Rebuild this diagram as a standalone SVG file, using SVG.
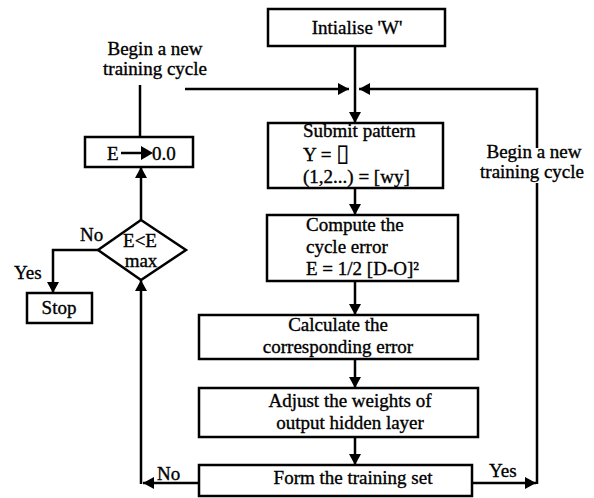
<svg xmlns="http://www.w3.org/2000/svg" width="594" height="498" viewBox="0 0 594 498">
<defs>
<marker id="ah" markerUnits="userSpaceOnUse" markerWidth="12" markerHeight="12" refX="11" refY="6" orient="auto">
<path d="M0,0 L11,6 L0,12 Z" fill="#000"/>
</marker>
<style>
.box{fill:#fff;stroke:#000;stroke-width:2.5}
.t{font-family:"Liberation Serif","Times New Roman",serif;font-size:19px;fill:#000;stroke:#000;stroke-width:0.35}
.c{text-anchor:middle}
.ln{fill:none;stroke:#000;stroke-width:2.5}
</style>
</defs>
<rect width="594" height="498" fill="#fff"/>
<g id="connectors">
<path class="ln" d="M355,46 V123" marker-end="url(#ah)"/>
<path class="ln" d="M140,137 V85"/>
<path class="ln" d="M185,89 H349" marker-end="url(#ah)"/>
<path class="ln" d="M472,483 H536" marker-end="url(#ah)"/>
<path class="ln" d="M537,484 V183"/>
<path class="ln" d="M537,148 V89 H359" marker-end="url(#ah)"/>
<path class="ln" d="M355,188 V215" marker-end="url(#ah)"/>
<path class="ln" d="M355,281 V315" marker-end="url(#ah)"/>
<path class="ln" d="M355,359 V388" marker-end="url(#ah)"/>
<path class="ln" d="M355,437 V465" marker-end="url(#ah)"/>
<path class="ln" d="M199,483 H143" marker-end="url(#ah)"/>
<path class="ln" d="M141,484 V280" marker-end="url(#ah)"/>
<path class="ln" d="M141,220 V167" marker-end="url(#ah)"/>
<path class="ln" d="M98,250 H53 V293" marker-end="url(#ah)"/>
</g>
<g id="labels">
<text class="t c" x="155" y="55">Begin a new</text>
<text class="t c" x="155" y="75">training cycle</text>
<text class="t c" x="534" y="158">Begin a new</text>
<text class="t c" x="532" y="178">training cycle</text>
<text class="t" x="80" y="241">No</text>
<text class="t" x="14" y="279">Yes</text>
<text class="t" x="157" y="480">No</text>
<text class="t" x="489" y="477">Yes</text>
</g>
<g id="init">
<rect class="box" x="268" y="9" width="177" height="37"/>
<text class="t c" x="357" y="34">Intialise 'W'</text>
</g>
<g id="submit">
<rect class="box" x="268" y="123" width="175" height="65"/>
<text class="t" x="303" y="137">Submit pattern</text>
<text class="t" x="303" y="161">Y = <tspan font-family="DejaVu Sans" font-size="24" stroke-width="0.2">▯</tspan></text>
<text class="t" x="303" y="183">(1,2...) = [wy]</text>
</g>
<g id="compute">
<rect class="box" x="267" y="215" width="191" height="66"/>
<text class="t" x="306" y="231">Compute the</text>
<text class="t" x="306" y="253">cycle error</text>
<text class="t" x="306" y="275">E = 1/2 [D-O]²</text>
</g>
<g id="calculate">
<rect class="box" x="199" y="315" width="279" height="44"/>
<text class="t c" x="338" y="331">Calculate the</text>
<text class="t c" x="338" y="353">corresponding error</text>
</g>
<g id="adjust">
<rect class="box" x="199" y="388" width="279" height="49"/>
<text class="t c" x="350" y="407">Adjust the weights of</text>
<text class="t c" x="350" y="429">output hidden layer</text>
</g>
<g id="form">
<rect class="box" x="199" y="465" width="273" height="31"/>
<text class="t c" x="353" y="484">Form the training set</text>
</g>
<g id="reset">
<rect class="box" x="85" y="137" width="108" height="30"/>
<text class="t" x="107" y="160">E</text>
<path d="M121,153 H144" stroke="#000" stroke-width="2.5"/>
<path d="M141,146 L153,153 L141,160 Z" fill="#000"/>
<text class="t" x="152" y="160">0.0</text>
</g>
<g id="decision">
<polygon class="box" points="141,220 186,250 141,280 98,250"/>
<text class="t c" x="140" y="247">E&lt;E</text>
<text class="t c" x="141" y="267">max</text>
</g>
<g id="stop">
<rect class="box" x="27" y="293" width="65" height="30"/>
<text class="t c" x="59" y="314">Stop</text>
</g>
</svg>
